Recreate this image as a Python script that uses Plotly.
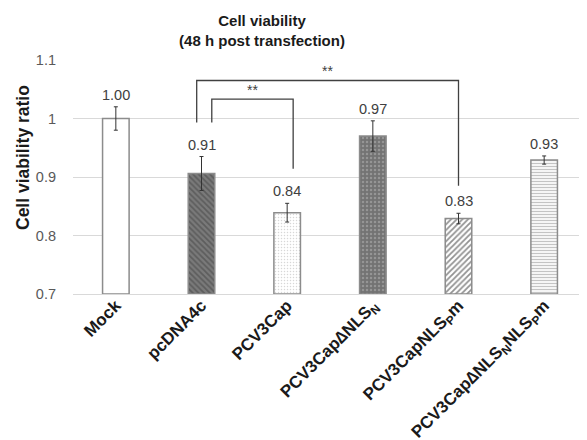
import plotly.graph_objects as go

categories = ["Mock", "pcDNA4c", "PCV3Cap", "PCV3Cap∆NLS<sub>N</sub>",
              "PCV3CapNLS<sub>P</sub>m", "PCV3Cap∆NLS<sub>N</sub>NLS<sub>P</sub>m"]
values = [1.000, 0.906, 0.839, 0.970, 0.829, 0.929]
errors = [0.020, 0.029, 0.016, 0.026, 0.009, 0.007]
value_labels = ["1.00", "0.91", "0.84", "0.97", "0.83", "0.93"]

# significance brackets: (x_left, x_right, y_left_end, y_right_end, y_top, label)
brackets = [
    (0.944, 4.0, 0.993, 0.885, 1.065, "**"),
    (1.12, 2.07, 0.993, 0.914, 1.033, "**"),
]

FONT = "Liberation Sans, Arial"

patterns = [
    dict(shape="", bgcolor="white"),
    dict(shape="\\", bgcolor="#7a7a7a", fgcolor="#404040", size=4, solidity=0.45),
    dict(shape=".", bgcolor="white", fgcolor="#b0b0b0", size=3, solidity=0.2),
    dict(shape=".", bgcolor="#737373", fgcolor="#b5b5b5", size=4, solidity=0.3),
    dict(shape="/", bgcolor="white", fgcolor="#262626", size=4, solidity=0.45),
    dict(shape="-", bgcolor="white", fgcolor="#8a8a8a", size=3, solidity=0.45),
]

fig = go.Figure()
for i, (c, v, e) in enumerate(zip(categories, values, errors)):
    fig.add_trace(go.Bar(
        x=[c], y=[v - 0.7], base=0.7, width=0.31,
        marker=dict(color="white", pattern=patterns[i],
                    line=dict(color="#8c8c8c", width=1.5)),
        error_y=dict(type="data", array=[e], color="#333333", thickness=1, width=2),
        showlegend=False, hoverinfo="skip",
    ))

for c, v, e, lab in zip(categories, values, errors, value_labels):
    fig.add_annotation(x=c, y=v + e, text=lab, showarrow=False, yanchor="bottom",
                       yshift=2, font=dict(family=FONT, size=14.5, color="#404040"))

for xl, xr, yl, yr, yt, lab in brackets:
    fig.add_trace(go.Scatter(
        x=[xl, xl, xr, xr], y=[yl, yt, yt, yr], mode="lines",
        line=dict(color="#404040", width=1.3), xaxis="x2",
        showlegend=False, hoverinfo="skip",
    ))
    fig.add_annotation(x=(xl + xr) / 2, y=yt, xref="x2", text=lab, showarrow=False,
                       yanchor="bottom", yshift=-1,
                       font=dict(family=FONT, size=14, color="#404040"))

# y-axis title
fig.add_annotation(text="<b>Cell viability ratio</b>", textangle=-90, showarrow=False,
                   xref="paper", yref="paper", x=-50 / 514, y=(286 - 150) / 234,
                   xanchor="center", yanchor="middle",
                   font=dict(family=FONT, size=17.5, color="#1a1a1a"))

# the page body adds an 8px offset, so the figure is sized to fill the window
fig.update_layout(
    width=579, height=432,
    margin=dict(l=65, r=0, t=52, b=146),
    paper_bgcolor="white", plot_bgcolor="white",
    title=dict(text="<b>Cell viability<br>(48 h post transfection)</b>",
               x=254 / 579, xanchor="center", y=1 - 18 / 432, yanchor="middle",
               font=dict(family=FONT, size=15, color="#1a1a1a")),
    xaxis=dict(type="category", tickangle=-45, showgrid=False, automargin=False,
               showline=True, linecolor="#d9d9d9", linewidth=1,
               ticklabelstandoff=-6,
               tickfont=dict(family=FONT, size=17, color="#1a1a1a", weight="bold"),
               ticks=""),
    xaxis2=dict(overlaying="x", range=[-0.5, 5.5], visible=False),
    yaxis=dict(range=[0.7, 1.1], dtick=0.1, showgrid=True, gridcolor="#d9d9d9",
               gridwidth=1, zeroline=False, ticks="", automargin=False,
               ticklabelstandoff=16,
               tickfont=dict(family=FONT, size=14.5, color="#595959")),
)

fig.write_html("out.html")
